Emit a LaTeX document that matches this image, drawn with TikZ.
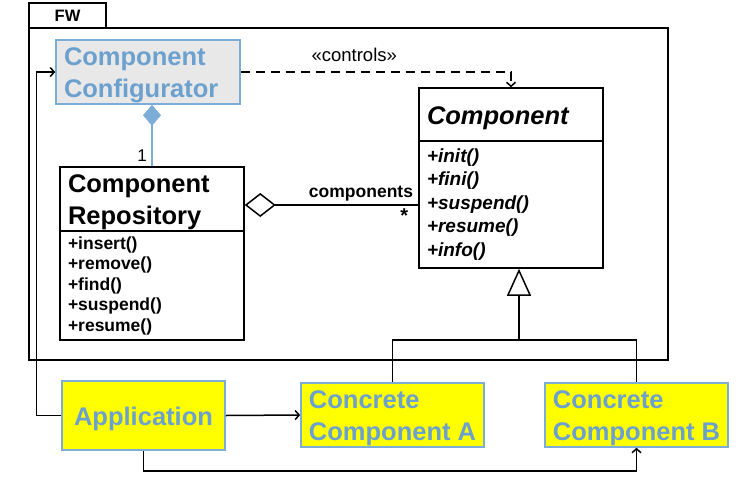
\documentclass[tikz,border=0pt]{standalone}
\usepackage{fontspec}
\setmainfont{Liberation Sans}
\usepackage{xcolor}
\usepackage{tikz}
\usetikzlibrary{arrows.meta}
\definecolor{cfgblue}{RGB}{108,160,206}
\definecolor{cfgline}{RGB}{125,172,214}
\definecolor{cfggrey}{RGB}{232,232,232}
\definecolor{appyellow}{RGB}{255,255,0}
\newcommand{\bigbold}{\bfseries\fontsize{25.5}{32}\selectfont}
\newcommand{\opbold}{\bfseries\fontsize{17.5}{20.5}\selectfont}
\newcommand{\opital}{\bfseries\itshape\fontsize{19}{23.5}\selectfont}
\newcommand{\tstrut}{\rule{0pt}{25pt}}
\tikzset{
    box/.style = {rectangle, draw=black, line width=1.5pt, inner ysep=0pt, inner xsep=8pt, align=left},
    cls_head/.style = {box, text width=168pt, minimum height=64pt, font=\bigbold},
    cls_body/.style = {box, text width=168pt},
    cfg_box/.style = {box, draw=cfgline, fill=cfggrey, text=cfgblue, text width=168pt, minimum height=64pt, font=\bigbold},
    app_box/.style = {box, draw=cfgline, fill=appyellow, text=cfgblue, font=\bigbold},
    fw_tab/.style = {box, minimum width=77pt, minimum height=25pt, font=\bfseries\fontsize{16.5}{19}\selectfont},
    fw_frame/.style = {box, minimum width=639pt, minimum height=332pt}
}
\begin{document}
\begin{tikzpicture}
            [x=1pt, y=-1pt, line width=1.5pt,
            >={Straight Barb[length=4pt,width=9pt]},
            dep/.style={->, dash pattern=on 9pt off 6pt},
            compose/.style={cfgline, -{Diamond[length=21pt,width=18pt,fill=cfgline]}},
            aggregate/.style={{Diamond[open,length=31pt,width=24pt]}-},
            inherit/.style={-{Triangle[open,length=27pt,width=24pt]}}]

            \useasboundingbox (0,0) rectangle (748,483);

            % package FW
            \node [fw_tab] (fwtab) at (67.5,15.5) {FW};
            \node [fw_frame] (fw) at (348.5,194) {};

            % classes
            \node [cfg_box] (cfg) at (148,72) {\tstrut Component\\Configurator};
            \node [cls_head] (repoT) at (152,199) {\tstrut Component\\Repository};
            \node [cls_body, minimum height=109pt, font=\opbold] (repoB) at (152,285.5)
                {+insert()\\+remove()\\+find()\\+suspend()\\+resume()};
            \node [cls_head, minimum height=53pt, font=\bigbold\itshape] (compT) at (511,114.5) {\tstrut Component};
            \node [cls_body, minimum height=127pt, font=\opital] (compB) at (511,204.5)
                {+init()\\+fini()\\+suspend()\\+resume()\\+info()};

            % outside the framework
            \node [app_box, align=center, minimum width=163pt, minimum height=69pt] (app) at (143.5,415.5) {\tstrut Application};
            \node [app_box, minimum width=183pt, minimum height=64pt] (conA) at (392.5,415) {\tstrut Concrete\\Component A};
            \node [app_box, minimum width=183pt, minimum height=64pt] (conB) at (636.5,415) {\tstrut Concrete\\Component B};

            % relations
            \draw [dep] (cfg.east) -| node [pos=0.21, above=6pt, font=\fontsize{18.5}{21}\selectfont] {«controls»} (compT.north);
            \draw [compose] (repoT.north) -- (repoT.north |- cfg.south)
                node [pos=0.17, left=1pt, black, font=\fontsize{17}{20}\selectfont] {1};
            \coordinate (aggL) at ([yshift=-6pt]repoT.east);
            \draw [aggregate] (aggL) -- (aggL -| compB.west)
                node [pos=0.67, above, font=\opbold] {components}
                node [pos=0.92, below, font=\bfseries\fontsize{20}{22}\selectfont] {*};
            \coordinate (inhT) at ([xshift=8pt]compB.south);
            \coordinate (inhJ) at ([yshift=-71pt]inhT);
            \draw [inherit] (inhJ) -- (inhT);
            \draw (conA.north) |- (inhJ) -| (conB.north);

            \draw [->] (app.west) -- ++(-25,0) |- (cfg.west);
            \draw [->] (app.east) -- (conA.west);
            \draw [->] (app.south) -- ++(0,20) -| (conB.south);
        \end{tikzpicture}
\end{document}
